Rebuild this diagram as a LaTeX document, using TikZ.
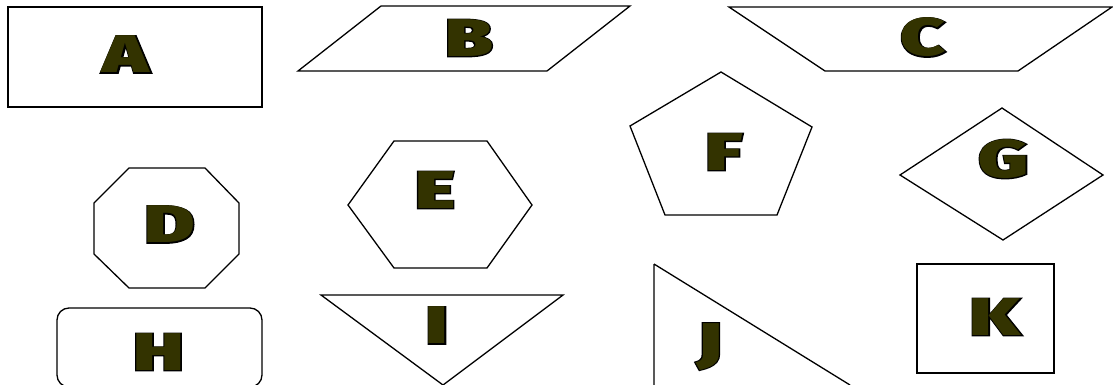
\documentclass[tikz,border=0pt]{standalone}
\usepackage{fontspec}
\usepackage{graphicx}
\newfontfamily\heavyouterfont[FakeBold=3.5]{Fira Sans Black}
\newfontfamily\heavyinnerfont{Fira Sans Black}
\definecolor{letterfill}{RGB}{51,51,0}
\newcommand\heavyletter[1]{\scalebox{1.45}[1]{\fontsize{53}{53}\selectfont
  \makebox[0pt]{\color{black}\heavyouterfont #1}\makebox[0pt]{\color{letterfill}\heavyinnerfont #1}}}
\tikzset{
  outline/.style={draw=black, line width=1.3pt},
  letter/.style={inner sep=0pt, outer sep=0pt}
}
\begin{document}
\begin{tikzpicture}[x=1pt, y=-1pt]
\useasboundingbox (0,0) rectangle (1113,385);
% A
\draw[outline] (8,7) rectangle (262,107);
\node[letter] (la) at (126,54.5) {\heavyletter{A}};
% B
\draw[outline] (381,6) -- (630,6) -- (547,71) -- (298,71) -- cycle;
\node[letter] (lb) at (469,38) {\heavyletter{B}};
% C
\draw[outline] (729,7) -- (1112,7) -- (1018,71) -- (825,71) -- cycle;
\node[letter] (lc) at (923,37.5) {\heavyletter{C}};
% D
\draw[outline] (129,168) -- (205,168) -- (239,203) -- (239,254) -- (205,288) -- (129,288) -- (94,254) -- (94,203) -- cycle;
\node[letter] (ld) at (169.5,224.5) {\heavyletter{D}};
% E
\draw[outline] (348,205) -- (394,141) -- (487,141) -- (532,205) -- (487,268) -- (394,268) -- cycle;
\node[letter] (le) at (435,190) {\heavyletter{E}};
% F
\draw[outline] (721,72) -- (812,127) -- (777,215) -- (665,215) -- (630,126) -- cycle;
\node[letter] (lf) at (724,152) {\heavyletter{F}};
% G
\draw[outline] (1002,108) -- (1103,175) -- (1003,240) -- (900,175) -- cycle;
\node[letter] (lg) at (1003.5,159) {\heavyletter{G}};
% H
\draw[outline, rounded corners=12pt] (57,308) rectangle (262,387);
\node[letter] (lh) at (158.5,352) {\heavyletter{H}};
% I
\draw[outline] (321,295) -- (563,295) -- (443,385) -- cycle;
\node[letter] (li) at (437,325.5) {\heavyletter{I}};
% J
\draw[outline] (654,264) -- (654,388) (654,264) -- (850,385);
\node[letter, anchor=base] (lj) at (709.5,360) {\heavyletter{J}};
% K
\draw[outline] (917,264) rectangle (1054,373);
\node[letter] (lk) at (995,317) {\heavyletter{K}};
\end{tikzpicture}
\end{document}
